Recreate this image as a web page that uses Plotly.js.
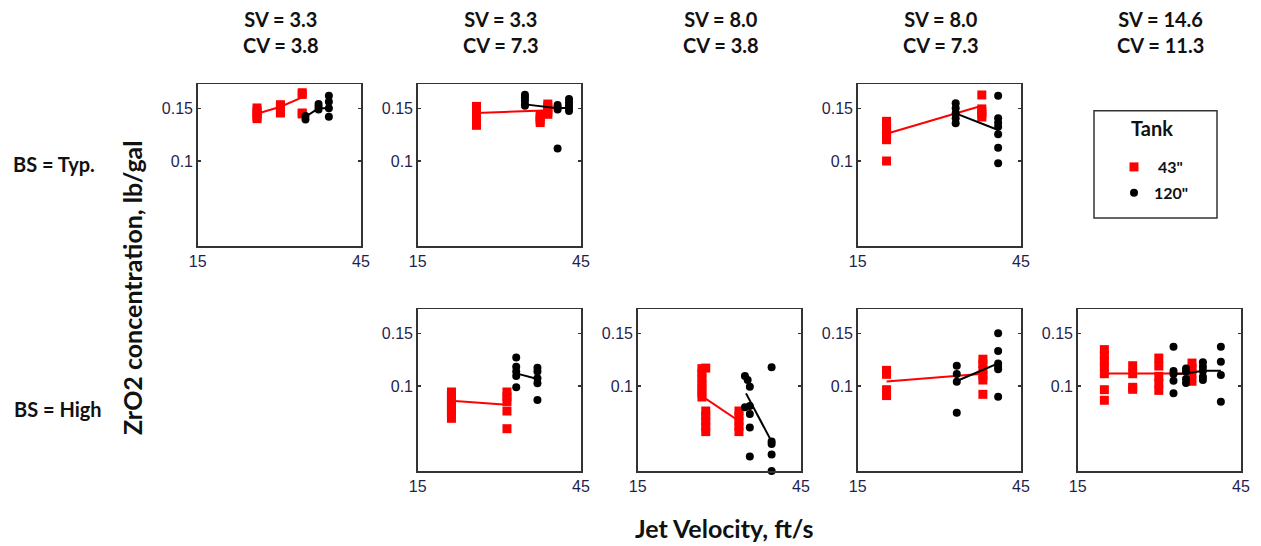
<!DOCTYPE html>
<html>
<head>
<meta charset="utf-8">
<script src="https://cdn.plot.ly/plotly-3.0.1.min.js"></script>
<style>html,body{margin:0;padding:0;background:#fff;}</style>
</head>
<body>
<div id="chart" style="width:1261px;height:546px;"></div>
<script>
// Axis ticks and labels
const jetTickVals = [15, 45];
const jetTickText = ['15', '45'];
const concTickVals = [0.1, 0.15];
const concTickText = ['0.1', '0.15'];
const tankNames = ['\u00a043"', '120"'];
const legendTitle = 'Tank';
const colTitles = ['SV = 3.3<br>CV = 3.8', 'SV = 3.3<br>CV = 7.3', 'SV = 8.0<br>CV = 3.8', 'SV = 8.0<br>CV = 7.3', 'SV = 14.6<br>CV = 11.3'];
const rowTitles = ['BS = Typ.', 'BS = High'];
const xTitle = 'Jet Velocity, ft/s';
const yTitle = 'ZrO2 concentration, lb/gal';

// Samples per tank: [jet velocity (ft/s), [ZrO2 concentrations (lb/gal)]]
// Mean lines: [jet velocity, mean ZrO2]

// BS = Typ., SV 3.3 / CV 3.8
const typA43 = [[25.9, [0.1504, 0.1469, 0.1436, 0.1406, 0.1385]], [30.2, [0.1542, 0.1511, 0.1480, 0.1447]], [34.2, [0.1691, 0.1669, 0.1447, 0.1436]]];
const typA120 = [[34.8, [0.1414, 0.1375]], [37.2, [0.1550, 0.1518, 0.1487]], [39.1, [0.1653, 0.1578, 0.1500, 0.1406]]];
const typAMean43 = [[25.9, 0.1439], [30.2, 0.1518], [34.2, 0.1631]];
const typAMean120 = [[34.8, 0.1406], [37.2, 0.1500], [39.1, 0.1500]];

// BS = Typ., SV 3.3 / CV 7.3
const typB43 = [[25.8, [0.1522, 0.1493, 0.1461, 0.1432, 0.1403, 0.1374, 0.1344, 0.1316]], [37.5, [0.1430, 0.1400, 0.1371, 0.1344]], [38.9, [0.1550, 0.1518, 0.1487, 0.1457, 0.1432]]];
const typB120 = [[34.7, [0.1666, 0.1631, 0.1594, 0.1546, 0.1530]], [40.7, [0.1538, 0.1511, 0.1487, 0.1102]], [42.8, [0.1611, 0.1574, 0.1538, 0.1504, 0.1469]]];
const typBMean43 = [[25.8, 0.1447], [38.2, 0.1476]];
const typBMean120 = [[34.7, 0.1546], [40.7, 0.1500], [42.8, 0.1507]];

// BS = Typ., SV 8.0 / CV 7.3
const typD43 = [[20.3, [0.1357, 0.1326, 0.1295, 0.1266, 0.1237, 0.1206, 0.1178, 0.1000]], [37.8, [0.1662, 0.1493, 0.1461, 0.1432, 0.1403]]];
const typD120 = [[33.0, [0.1558, 0.1500, 0.1443, 0.1389, 0.1336]], [40.8, [0.1653, 0.1389, 0.1343, 0.1302, 0.1228, 0.1107, 0.0982]]];
const typDMean43 = [[20.3, 0.1234], [37.8, 0.1530]];
const typDMean120 = [[33.0, 0.1443], [40.8, 0.1269]];

// BS = High, SV 3.3 / CV 7.3
const highB43 = [[21.2, [0.0955, 0.0933, 0.0909, 0.0886, 0.0864, 0.0842, 0.0821, 0.0800, 0.0780]], [31.4, [0.0955, 0.0921, 0.0888, 0.0825, 0.0720]]];
const highB120 = [[33.1, [0.1246, 0.1160, 0.1117, 0.1080, 0.0990]], [37.0, [0.1151, 0.1117, 0.1061, 0.1021, 0.0898]]];
const highBMean43 = [[21.2, 0.0893], [31.4, 0.0866]];
const highBMean120 = [[33.1, 0.1102], [37.0, 0.1055]];

// BS = High, SV 8.0 / CV 3.8
const highC43 = [[26.8, [0.1143, 0.1102, 0.1061, 0.1021, 0.0985, 0.0950, 0.0919]], [27.5, [0.1148, 0.0825, 0.0792, 0.0762, 0.0733, 0.0704]], [33.6, [0.0825, 0.0792, 0.0762, 0.0733, 0.0704]]];
const highC120 = [[34.7, [0.1080, 0.0849]], [35.2, [0.1047]], [35.6, [0.0995, 0.0857, 0.0806, 0.0727, 0.0581]], [39.6, [0.1155, 0.0652, 0.0640, 0.0590, 0.0520]]];
const highCMean43 = [[27.2, 0.0914], [33.6, 0.0764]];
const highCMean120 = [[34.9, 0.0945], [39.6, 0.0652]];

// BS = High, SV 8.0 / CV 7.3
const highD43 = [[20.3, [0.1128, 0.1094, 0.0972, 0.0929]], [38.0, [0.1229, 0.1185, 0.1133, 0.1088, 0.1047, 0.0938]]];
const highD120 = [[33.2, [0.1169, 0.1097, 0.1034, 0.0814]], [40.8, [0.1500, 0.1309, 0.1190, 0.1160, 0.1137, 0.0921]]];
const highDMean43 = [[20.3, 0.1036], [38.0, 0.1099]];
const highDMean120 = [[33.2, 0.1039], [40.8, 0.1190]];

// BS = High, SV 14.6 / CV 11.3
const highE43 = [[19.9, [0.1323, 0.1266, 0.1212, 0.1160, 0.1099, 0.0972, 0.0896]], [25.1, [0.1169, 0.1099, 0.0990, 0.0975]], [29.9, [0.1240, 0.1166, 0.1077, 0.1021, 0.0967]], [36.0, [0.1193, 0.1145, 0.1102, 0.1037]]];
const highE120 = [[32.6, [0.1353, 0.1122, 0.1097, 0.1042, 0.0945]], [34.9, [0.1145, 0.1117, 0.1055, 0.1024]], [38.0, [0.1200, 0.1160, 0.1122, 0.1074, 0.1047]], [41.3, [0.1353, 0.1206, 0.1088, 0.0886]]];
const highEMean43 = [[19.9, 0.1102], [25.1, 0.1102], [29.9, 0.1100], [36.0, 0.1100]];
const highEMean120 = [[32.6, 0.1097], [34.9, 0.1102], [38.0, 0.1125], [41.3, 0.1125]];

// Grid placement (row 0 = BS Typ., row 1 = BS High; col = SV/CV combination)
const panels = [
  {row: 0, col: 0, s43: typA43, s120: typA120, m43: typAMean43, m120: typAMean120},
  {row: 0, col: 1, s43: typB43, s120: typB120, m43: typBMean43, m120: typBMean120},
  {row: 0, col: 3, s43: typD43, s120: typD120, m43: typDMean43, m120: typDMean120},
  {row: 1, col: 1, s43: highB43, s120: highB120, m43: highBMean43, m120: highBMean120},
  {row: 1, col: 2, s43: highC43, s120: highC120, m43: highCMean43, m120: highCMean120},
  {row: 1, col: 3, s43: highD43, s120: highD120, m43: highDMean43, m120: highDMean120},
  {row: 1, col: 4, s43: highE43, s120: highE120, m43: highEMean43, m120: highEMean120}
];

const W = 1261, H = 546;
const colLeft = c => 197.7 + 220 * c;
const panelW = 163.3, panelH = 162;
const rowTop = [84, 309];
const legendBox = {left: 1094, right: 1217, top: 110.7, bottom: 218};

const red = '#ff0000', black = '#000000';
const tickFont = {family: 'Liberation Sans, Arial, sans-serif', size: 16, color: '#1f1f4f'};
const labelFont = {family: 'Lato, sans-serif', size: 20, color: '#111111', weight: 700};
const legendItemFont = {family: 'Lato, sans-serif', size: 16, color: '#111111', weight: 700};
const axisTitleFont = {family: 'Lato, sans-serif', size: 25, color: '#111111', weight: 700};

function flatten(groups) {
  const x = [], y = [];
  groups.forEach(([v, vals]) => vals.forEach(c => { x.push(v); y.push(c); }));
  return {x, y};
}

const traces = [];
const layout = {
  width: W, height: H,
  margin: {l: 0, r: 0, t: 0, b: 0},
  paper_bgcolor: '#ffffff', plot_bgcolor: '#ffffff',
  showlegend: true,
  legend: {
    x: 1114 / W, y: 1 - 150 / H, xanchor: 'left', yanchor: 'top',
    borderwidth: 0, bgcolor: 'rgba(0,0,0,0)',
    font: legendItemFont, tracegroupgap: 2
  },
  shapes: [{
    type: 'rect', xref: 'paper', yref: 'paper',
    x0: legendBox.left / W, x1: legendBox.right / W,
    y0: 1 - legendBox.bottom / H, y1: 1 - legendBox.top / H,
    line: {color: '#333333', width: 1.5}, fillcolor: 'rgba(0,0,0,0)', layer: 'below'
  }],
  annotations: []
};

panels.forEach((p, i) => {
  const k = i + 1;
  const sfx = k === 1 ? '' : String(k);
  const xa = 'x' + sfx, ya = 'y' + sfx;
  const left = colLeft(p.col), top = rowTop[p.row];
  layout['xaxis' + sfx] = {
    domain: [left / W, (left + panelW) / W], anchor: ya,
    range: [15, 45], showgrid: false, zeroline: false,
    showline: true, mirror: true, linecolor: '#333333', linewidth: 1.5,
    tickvals: jetTickVals, ticktext: jetTickText, ticks: '',
    tickfont: tickFont, fixedrange: true
  };
  layout['yaxis' + sfx] = {
    domain: [1 - (top + panelH) / H, 1 - top / H], anchor: xa,
    type: 'log', range: [-1.284, -0.7427], showgrid: false, zeroline: false,
    showline: true, mirror: 'ticks', linecolor: '#333333', linewidth: 1.5,
    tickvals: concTickVals, ticktext: concTickText,
    ticks: 'inside', ticklen: 3, tickwidth: 1.2, tickcolor: '#333333',
    tickfont: tickFont, fixedrange: true
  };
  const r = flatten(p.s43), b = flatten(p.s120);
  traces.push({
    type: 'scatter', mode: 'markers', x: r.x, y: r.y, xaxis: xa, yaxis: ya,
    name: tankNames[0], legendgroup: 't43', showlegend: k === 1,
    marker: {symbol: 'square', size: 9, color: red}, cliponaxis: false, hoverinfo: 'x+y'
  });
  traces.push({
    type: 'scatter', mode: 'lines', x: p.m43.map(d => d[0]), y: p.m43.map(d => d[1]),
    xaxis: xa, yaxis: ya, legendgroup: 't43', showlegend: false,
    line: {color: red, width: 2}, hoverinfo: 'skip'
  });
  traces.push({
    type: 'scatter', mode: 'markers', x: b.x, y: b.y, xaxis: xa, yaxis: ya,
    name: tankNames[1], legendgroup: 't120', showlegend: k === 1,
    marker: {symbol: 'circle', size: 8, color: black}, cliponaxis: false, hoverinfo: 'x+y'
  });
  traces.push({
    type: 'scatter', mode: 'lines', x: p.m120.map(d => d[0]), y: p.m120.map(d => d[1]),
    xaxis: xa, yaxis: ya, legendgroup: 't120', showlegend: false,
    line: {color: black, width: 2}, hoverinfo: 'skip'
  });
});

// Column headers
colTitles.forEach((t, c) => {
  layout.annotations.push({
    text: t, xref: 'paper', yref: 'paper',
    x: (colLeft(c) + panelW / 2 + 1.5) / W, y: 1 - 32 / H,
    xanchor: 'center', yanchor: 'middle', showarrow: false,
    font: labelFont, align: 'center'
  });
});

// Row headers
layout.annotations.push({text: rowTitles[0], xref: 'paper', yref: 'paper', x: 11 / W, y: 1 - 164 / H,
  xanchor: 'left', yanchor: 'middle', showarrow: false, font: labelFont});
layout.annotations.push({text: rowTitles[1], xref: 'paper', yref: 'paper', x: 12 / W, y: 1 - 409 / H,
  xanchor: 'left', yanchor: 'middle', showarrow: false, font: labelFont});

// Legend heading inside the framed box
layout.annotations.push({text: legendTitle, xref: 'paper', yref: 'paper', x: 1152 / W, y: 1 - 128 / H,
  xanchor: 'center', yanchor: 'middle', showarrow: false, font: labelFont});

// Shared axis titles
layout.annotations.push({text: yTitle, xref: 'paper', yref: 'paper',
  x: 131.5 / W, y: 1 - 287.5 / H, xanchor: 'center', yanchor: 'middle', textangle: -90,
  showarrow: false, font: axisTitleFont});
layout.annotations.push({text: xTitle, xref: 'paper', yref: 'paper',
  x: 724.7 / W, y: 1 - 528 / H, xanchor: 'center', yanchor: 'middle',
  showarrow: false, font: axisTitleFont});

Plotly.newPlot('chart', traces, layout, {displayModeBar: false, staticPlot: true});
</script>
</body>
</html>
